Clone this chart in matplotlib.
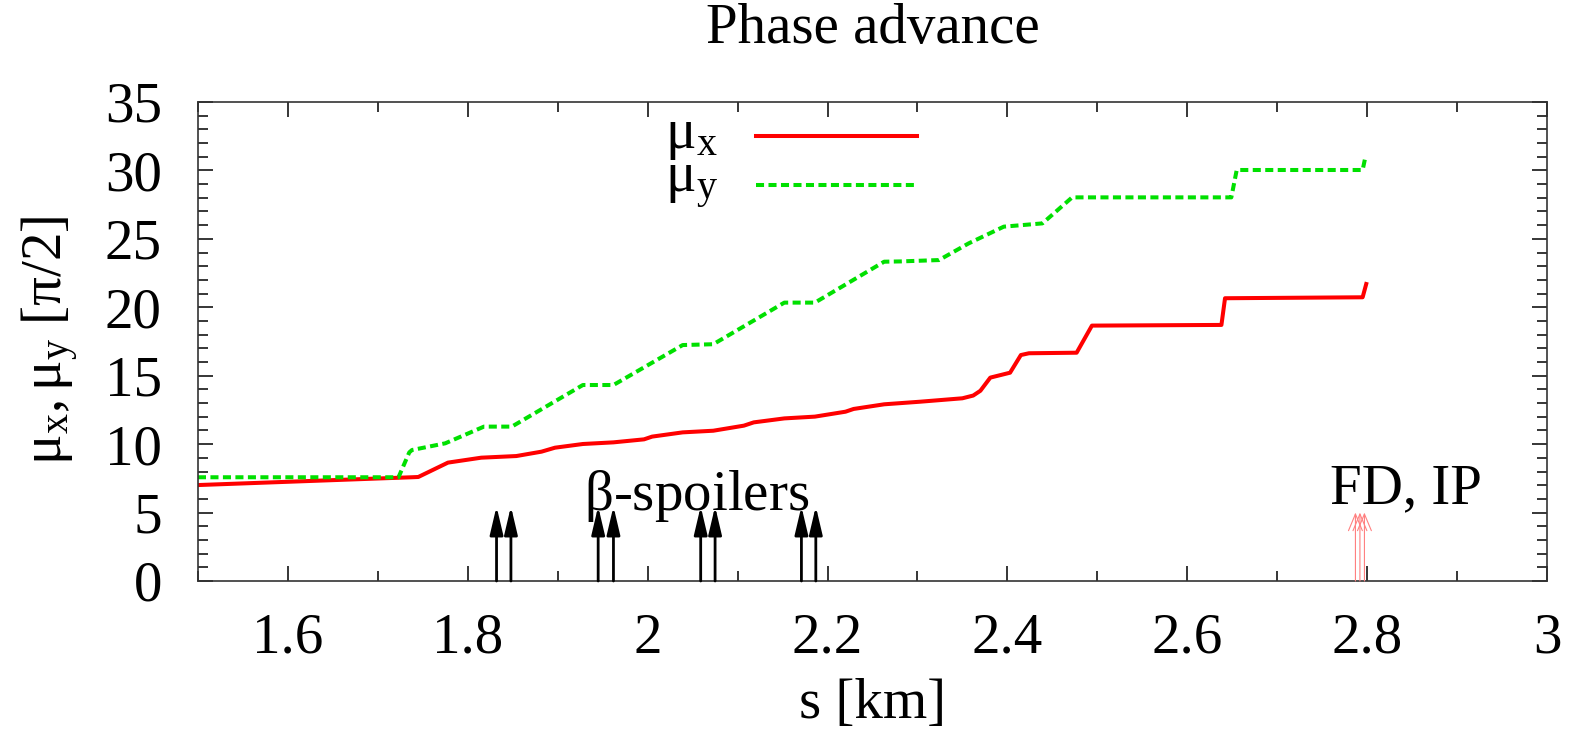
import matplotlib
matplotlib.use('Agg')
import matplotlib.pyplot as plt
from matplotlib.ticker import MultipleLocator, FuncFormatter

plt.rcParams['font.family'] = ['Liberation Serif', 'DejaVu Serif']
plt.rcParams['mathtext.fontset'] = 'custom'
plt.rcParams['mathtext.rm'] = 'Liberation Serif'
plt.rcParams['mathtext.it'] = 'Liberation Serif:italic'

# phase advance along the beam line, s in km, mu in units of pi/2
mux_s = [1.50, 1.738, 1.745, 1.778, 1.815, 1.854, 1.882, 1.897, 1.928, 1.962,
         1.996, 2.005, 2.039, 2.073, 2.107, 2.118, 2.152, 2.186, 2.220, 2.229,
         2.263, 2.303, 2.350, 2.362, 2.370, 2.381, 2.403, 2.415, 2.424, 2.477,
         2.494, 2.638, 2.642, 2.795, 2.799]
mux = [7.01, 7.58, 7.60, 8.65, 9.01, 9.13, 9.45, 9.74, 10.01, 10.13,
       10.35, 10.55, 10.86, 10.98, 11.35, 11.59, 11.88, 12.01, 12.37, 12.57,
       12.91, 13.10, 13.35, 13.55, 13.90, 14.86, 15.22, 16.51, 16.64, 16.68,
       18.66, 18.71, 20.66, 20.73, 21.70]

muy_s = [1.50, 1.723, 1.735, 1.738, 1.775, 1.818, 1.849, 1.928, 1.962, 2.039,
         2.073, 2.152, 2.186, 2.263, 2.281, 2.324, 2.357, 2.396, 2.439, 2.472,
         2.649, 2.655, 2.795, 2.798]
muy = [7.58, 7.58, 9.40, 9.57, 10.06, 11.28, 11.28, 14.32, 14.32, 17.24,
       17.30, 20.34, 20.34, 23.33, 23.35, 23.45, 24.67, 25.89, 26.13, 28.03,
       28.03, 30.03, 30.03, 30.96]

# beta-spoiler locations (pairs) and final doublet / IP
spoiler_s = [1.832, 1.848, 1.945, 1.962, 2.059, 2.075, 2.171, 2.187]
spoiler_top = 5.45
fdip_s = [2.787, 2.792, 2.797]
fdip_top = 5.0

x_ticks = [1.6, 1.8, 2.0, 2.2, 2.4, 2.6, 2.8, 3.0]
y_ticks = [0, 5, 10, 15, 20, 25, 30, 35]

fs = 41

fig = plt.figure(figsize=(15.76, 7.31), dpi=100)
ax = fig.add_axes([0.1256, 0.2052, 0.856, 0.6553])

ax.plot(mux_s, mux, color='#ff0000', lw=2.9)
ax.plot(muy_s, muy, color='#00e000', lw=2.9, dashes=(2, 1.1))

for s in spoiler_s:
    ax.annotate('', xy=(s, spoiler_top), xytext=(s, 0),
                arrowprops=dict(arrowstyle='-|>,head_length=0.85,head_width=0.2',
                                color='black', lw=2.0, shrinkA=0, shrinkB=0,
                                mutation_scale=20))
for s in fdip_s:
    ax.annotate('', xy=(s, fdip_top), xytext=(s, 0),
                arrowprops=dict(arrowstyle='->,head_length=0.6,head_width=0.25',
                                color='#ff8080', lw=0.8, shrinkA=0, shrinkB=0,
                                mutation_scale=20))

ax.text(2.054, 5.19, r'$\mathregular{\beta}$-spoilers', fontsize=fs,
        ha='center', va='baseline')
ax.text(2.843, 5.7, 'FD, IP', fontsize=fs, ha='center', va='baseline')

# key, drawn gnuplot style: label on the left, sample line on the right
key_rows = [(0.9297, r'$\mathregular{\mu_x}$', dict(color='#ff0000', lw=2.9)),
            (0.8267, r'$\mathregular{\mu_y}$', dict(color='#00e000', lw=2.9, dashes=(2, 1.1)))]
for ky, lab, style in key_rows:
    ax.plot([0.4136, 0.533], [ky, ky], transform=ax.transAxes, **style)
    ax.text(0.3855, ky, lab, transform=ax.transAxes, fontsize=fs,
            ha='right', va='center')

ax.set_xlim(1.5, 3.0)
ax.set_ylim(0, 35)
ax.set_xticks(x_ticks)
ax.set_yticks(y_ticks)
ax.xaxis.set_major_formatter(FuncFormatter(lambda v, p: f'{v:g}'))
ax.xaxis.set_minor_locator(MultipleLocator(0.1))
ax.yaxis.set_minor_locator(MultipleLocator(1))
ax.tick_params(which='both', direction='in', top=True, right=True,
               width=1.1, labelsize=fs)
ax.tick_params(which='major', length=10.8)
ax.tick_params(which='minor', length=7.2)
ax.tick_params(axis='x', which='major', pad=23)
ax.tick_params(axis='y', which='major', pad=26)
for sp in ax.spines.values():
    sp.set_linewidth(1.2)
    sp.set_color('#333333')

xc = 0.1256 + 0.856 / 2
fig.text(xc, 0.941, 'Phase advance', fontsize=fs, ha='center', va='baseline')
fig.text(xc, 0.0178, 's [km]', fontsize=fs, ha='center', va='baseline')
fig.text(0.032, 0.535, r'$\mathregular{\mu_x, \mu_y\ [\pi/2]}$', fontsize=fs,
         rotation=90, ha='center', va='center')

fig.savefig('out.png', dpi=100, facecolor='white')
